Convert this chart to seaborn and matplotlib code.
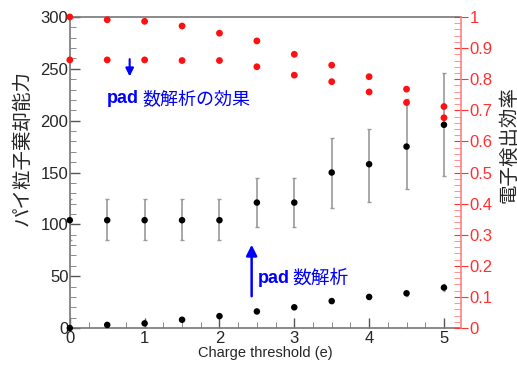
import numpy as np
import pandas as pd
import matplotlib
matplotlib.use("Agg")
import matplotlib.pyplot as plt
import seaborn as sns

# ---- data ----
threshold = [0, 0.5, 1, 1.5, 2, 2.5, 3, 3.5, 4, 4.5, 5]

# pion rejection (left axis), with error bars
rej_pad = [104, 104, 104, 104, 104, 121, 121, 150, 158, 175, 196]
rej_pad_hi = [124, 124, 124, 124, 124, 145, 145, 183, 192, 221, 246]
rej_pad_lo = [85, 85, 85, 85, 85, 97, 97, 116, 122, 134, 147]

# pion rejection without pad analysis (left axis)
rej_plain = [0, 3, 4.5, 8, 11.5, 16, 20, 26, 30, 33.5, 39]
rej_plain_err = [0, 0.5, 0.5, 0.7, 1, 1.2, 1.5, 2, 2, 2.5, 3]

# electron efficiency (right axis)
eff_plain = [1.0, 0.991, 0.986, 0.971, 0.948, 0.923, 0.880, 0.845, 0.808, 0.768, 0.712]
eff_pad = [0.862, 0.862, 0.862, 0.860, 0.860, 0.840, 0.813, 0.792, 0.759, 0.725, 0.676]

df = pd.DataFrame({"x": threshold, "rej_pad": rej_pad, "rej_plain": rej_plain,
                   "eff_plain": eff_plain, "eff_pad": eff_pad})

sns.set_style("ticks")
plt.rcParams['font.family'] = ['Liberation Sans', 'Noto Sans CJK JP', 'DejaVu Sans']

fig = plt.figure(figsize=(5.17, 3.69), dpi=100)
ax = fig.add_axes([0.135, 0.111, 0.757, 0.843])

# error bars first, gray
lo_err = np.array(rej_pad) - np.array(rej_pad_lo)
hi_err = np.array(rej_pad_hi) - np.array(rej_pad)
ax.errorbar(threshold, rej_pad, yerr=[lo_err, hi_err], fmt='none', ecolor='#9a9a9a',
            elinewidth=1.2, capsize=1.5, capthick=1, zorder=2)
ax.errorbar(threshold, rej_plain, yerr=rej_plain_err, fmt='none', ecolor='#9a9a9a',
            elinewidth=1.0, capsize=1, zorder=2)

sns.scatterplot(data=df, x="x", y="rej_pad", ax=ax, color='black', s=22,
                edgecolor='none', zorder=3, clip_on=False)
sns.scatterplot(data=df, x="x", y="rej_plain", ax=ax, color='black', s=22,
                edgecolor='none', zorder=3, clip_on=False)

ax.set_xlim(0, 5.23)
ax.set_ylim(0, 300)
ax.set_xticks([0, 1, 2, 3, 4, 5])
ax.set_xticks(np.arange(0, 5.25, 0.25), minor=True)
ax.set_yticks(np.arange(0, 301, 50))
ax.set_yticks(np.arange(0, 301, 10), minor=True)
ax.tick_params(axis='both', which='major', direction='in', length=7, labelsize=12,
               color='#555555', width=1)
ax.tick_params(axis='both', which='minor', direction='in', length=4, color='#777777')
ax.tick_params(axis='y', pad=1)
ax.tick_params(axis='x', pad=2)
for s in ['left', 'bottom', 'top']:
    ax.spines[s].set_color('#777777')
    ax.spines[s].set_linewidth(1.2)
ax.spines['right'].set_visible(False)

ax.set_xlabel("Charge threshold (e)", fontsize=10.5, labelpad=0)
ax.set_ylabel("パイ粒子棄却能力", fontsize=14)
ax.yaxis.set_label_coords(-0.097, 0.58)

# right axis: electron efficiency
ax2 = ax.twinx()
sns.scatterplot(data=df, x="x", y="eff_plain", ax=ax2, color='#ff1010', marker='o', s=24,
                edgecolor='none', zorder=3, clip_on=False)
sns.scatterplot(data=df, x="x", y="eff_pad", ax=ax2, color='#ff1010', marker='o', s=24,
                edgecolor='none', zorder=3, clip_on=False)
ax2.set_ylim(0, 1)
ax2.set_yticks(np.arange(0, 1.01, 0.1))
ax2.set_yticklabels(['0', '0.1', '0.2', '0.3', '0.4', '0.5', '0.6', '0.7', '0.8', '0.9', '1'])
ax2.set_yticks(np.arange(0, 1.001, 0.02), minor=True)
ax2.tick_params(axis='y', which='major', direction='inout', length=10, colors='#ff3030',
                labelsize=12, pad=1)
ax2.tick_params(axis='y', which='minor', direction='in', length=5, color='#ff8080')
for s in ['left', 'bottom', 'top']:
    ax2.spines[s].set_visible(False)
ax2.spines['right'].set_color('#ff8080')
ax2.spines['right'].set_linewidth(1.2)
ax2.set_ylabel("電子検出効率", fontsize=14)
ax2.yaxis.set_label_coords(1.098, 0.59)
ax2.set_xlabel("")

# annotations (left-axis units)
ax.annotate("", xy=(0.8, 240), xytext=(0.8, 262),
            arrowprops=dict(arrowstyle='-|>', color='blue', lw=1.5, mutation_scale=12))
ax.text(0.49, 221, "pad", color='blue', fontsize=13, fontweight='bold', va='center')
ax.text(0.97, 221, "数解析の効果", color='blue', fontsize=13, va='center',
        family=['Noto Sans CJK JP'])
ax.annotate("", xy=(2.43, 83), xytext=(2.43, 28),
            arrowprops=dict(arrowstyle='-|>', color='blue', lw=1.8, mutation_scale=16))
ax.text(2.51, 48, "pad", color='blue', fontsize=13, fontweight='bold', va='center')
ax.text(2.97, 48, "数解析", color='blue', fontsize=13.5, va='center',
        family=['Noto Sans CJK JP'])

fig.savefig("out.png", dpi=100)
